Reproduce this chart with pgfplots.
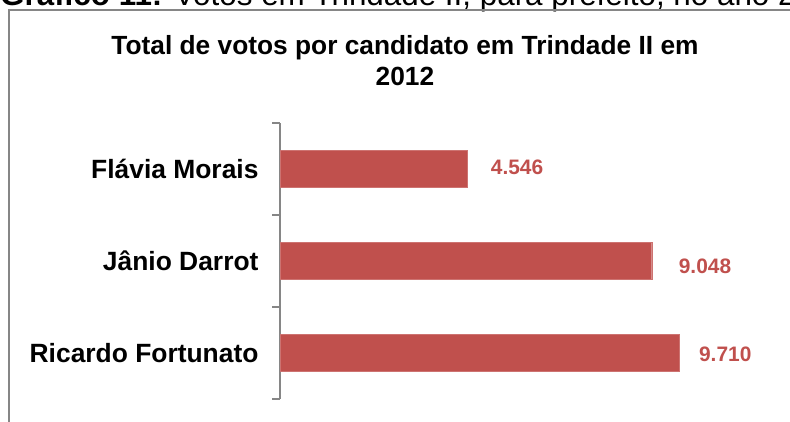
\documentclass[border=0pt]{standalone}
\usepackage{pgfplots}
\pgfplotsset{compat=1.18}
\usepackage{fontspec}
\setmainfont{Liberation Sans}
\definecolor{barred}{HTML}{C0504D}
\definecolor{axgray}{HTML}{868686}
\begin{document}
\begin{tikzpicture}[x=1bp,y=1bp]
\path[use as bounding box, clip] (0,0) rectangle (790,-421);

% caption of the figure, cut by the page edge
\node[anchor=base west, inner sep=0pt] at (0,-5)
  {\fontsize{31.5}{35}\selectfont\textbf{Gráfico 11:} Votos em Trindade II, para prefeito, no ano 2012};

% chart frame
\draw[axgray, line width=1.5bp] (9,-440) -- (9,-10) -- (800,-10);

% chart title
\node[anchor=base, inner sep=0pt] at (405,-54)
  {\fontsize{26.4}{30}\selectfont\bfseries Total de votos por candidato em Trindade II em};
\node[anchor=base, inner sep=0pt] at (405,-85)
  {\fontsize{26.4}{30}\selectfont\bfseries 2012};

\begin{axis}[
	at={(280bp,-399bp)}, anchor=south west,
	scale only axis,
	width=493bp, height=276bp,
	xbar, bar width=37bp,
	xmin=0, xmax=12000,
	ymin=-0.5, ymax=2.5,
	y dir=reverse,
	axis x line=none,
	axis y line*=left,
	y axis line style={axgray, line width=1.2bp},
	ytick={-0.5,0.5,1.5,2.5},
	yticklabels={},
	tick align=outside,
	major tick length=8bp,
	y tick style={axgray, line width=1.2bp},
	extra y ticks={0,1,2},
	extra y tick labels={Flávia Morais, Jânio Darrot, Ricardo Fortunato},
	extra y tick style={major tick length=0pt, tick style={draw=none}},
	yticklabel style={font=\fontsize{26.5}{30}\selectfont\bfseries, xshift=-18bp},
	clip=false,
]
\addplot[
	fill=barred, draw=barred!80!white,
	point meta=explicit symbolic,
	visualization depends on=\thisrow{dx} \as \dx,
	visualization depends on=\thisrow{dy} \as \dy,
	nodes near coords,
	nodes near coords style={
		anchor=west, inner sep=0pt,
		xshift=\dx, yshift=\dy,
		font=\fontsize{21}{24}\selectfont\bfseries,
		text=barred,
	},
] table[x=x, y=y, meta=label] {
	x     y  label  dx  dy
	4546  0  4.546  24  2
	9048  1  9.048  27  -5
	9710  2  9.710  20  -1
};
\end{axis}
\end{tikzpicture}
\end{document}
